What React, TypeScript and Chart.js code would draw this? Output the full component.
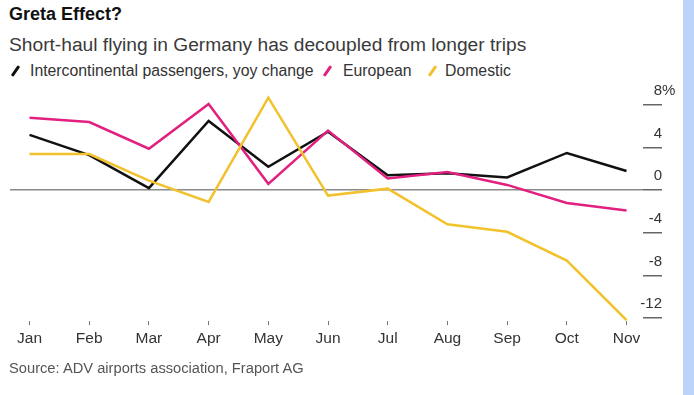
import React, { useEffect, useRef } from 'react';
import { Chart, registerables } from 'chart.js';
Chart.register(...registerables);

const months = ['Jan', 'Feb', 'Mar', 'Apr', 'May', 'Jun', 'Jul', 'Aug', 'Sep', 'Oct', 'Nov'];
const intercontinental = [5.2, 3.3, 0.2, 6.5, 2.2, 5.5, 1.4, 1.6, 1.2, 3.5, 1.8];
const european = [6.8, 6.4, 3.9, 8.1, 0.6, 5.6, 1.1, 1.7, 0.5, -1.2, -1.9];
const domestic = [3.4, 3.4, 0.9, -1.1, 8.7, -0.5, 0.15, -3.2, -3.9, -6.6, -12.2];
const yTicks = [-12, -8, -4, 0, 4, 8];

const FONT = '"Liberation Sans", Arial, Helvetica, sans-serif';
const BLACK = '#111111';
const PINK = '#e2207f';
const YELLOW = '#f2c22c';

function Slash({ color, left }: { color: string; left: number }) {
  return (
    <span
      style={{
        position: 'absolute',
        left,
        top: 65,
        width: 3,
        height: 12,
        background: color,
        transform: 'rotate(35deg)',
        borderRadius: 1,
      }}
    />
  );
}

const yLabelPlugin = {
  id: 'yLabels',
  afterDraw(chart: any) {
    const { ctx, chartArea, scales } = chart;
    const y = scales.y;
    ctx.save();
    ctx.font = `15px ${FONT}`;
    ctx.fillStyle = '#333';
    ctx.textBaseline = 'middle';
    const xr = chartArea.right + 19;
    yTicks.forEach((v) => {
      const py = y.getPixelForValue(v) - 14;
      ctx.textAlign = 'right';
      ctx.fillText(String(v), xr, py);
      if (v === yTicks[yTicks.length - 1]) {
        ctx.textAlign = 'left';
        ctx.fillText('%', xr, py);
      }
    });
    ctx.restore();
  },
};

export default function App() {
  const ref = useRef<HTMLCanvasElement | null>(null);

  useEffect(() => {
    document.body.style.margin = '0';
    const canvas = ref.current;
    if (!canvas) return;
    const toPts = (arr: number[]) => arr.map((y, i) => ({ x: i, y }));
    const chart = new Chart(canvas, {
      type: 'line',
      data: {
        datasets: [
          { label: 'Intercontinental passengers, yoy change', data: toPts(intercontinental), borderColor: BLACK, backgroundColor: BLACK, borderWidth: 2.5, pointRadius: 0, tension: 0, order: 3 },
          { label: 'European', data: toPts(european), borderColor: PINK, backgroundColor: PINK, borderWidth: 2.5, pointRadius: 0, tension: 0, order: 2 },
          { label: 'Domestic', data: toPts(domestic), borderColor: YELLOW, backgroundColor: YELLOW, borderWidth: 2.5, pointRadius: 0, tension: 0, order: 1 },
        ],
      },
      options: {
        animation: false,
        responsive: false,
        maintainAspectRatio: false,
        layout: { padding: { left: 10, top: 94.4, right: 0, bottom: 43.8 } },
        plugins: { legend: { display: false }, tooltip: { enabled: false }, title: { display: false } },
        scales: {
          x: {
            type: 'linear',
            min: -0.327,
            max: 10.276,
            afterBuildTicks: (s: any) => {
              s.ticks = months.map((_, i) => ({ value: i }));
            },
            afterFit: (s: any) => {
              s.height = 30;
            },
            ticks: {
              callback: (v: any) => months[v as number],
              color: '#333',
              font: { size: 15.5, family: FONT },
              padding: 4,
              maxRotation: 0,
              autoSkip: false,
            },
            grid: { drawOnChartArea: false, drawTicks: true, tickLength: 4, tickColor: '#777', lineWidth: 1 },
            border: { display: false },
          },
          y: {
            position: 'right',
            min: -12.3,
            max: 9,
            afterBuildTicks: (s: any) => {
              s.ticks = yTicks.map((v) => ({ value: v }));
            },
            afterFit: (s: any) => {
              s.width = 40;
            },
            ticks: { display: false },
            grid: {
              color: (ctx: any) => (ctx.tick && ctx.tick.value === 0 ? '#8a8a8a' : 'rgba(0,0,0,0)'),
              lineWidth: 1.5,
              drawTicks: true,
              tickLength: 19,
              tickColor: '#666',
            },
            border: { display: false },
          },
        },
      },
      plugins: [yLabelPlugin],
    });
    return () => chart.destroy();
  }, []);

  return (
    <div style={{ position: 'fixed', left: 0, top: 0, width: 694, height: 395, background: '#fff', overflow: 'hidden', fontFamily: FONT }}>
      <div style={{ position: 'absolute', left: 9, top: 4, fontSize: 18, fontWeight: 'bold', lineHeight: '20px', color: '#111', whiteSpace: 'nowrap' }}>
        Greta Effect?
      </div>
      <div style={{ position: 'absolute', left: 9, top: 34, fontSize: 19.2, lineHeight: '22px', color: '#3a3a3a', whiteSpace: 'nowrap' }}>
        Short-haul flying in Germany has decoupled from longer trips
      </div>
      <Slash color={BLACK} left={14} />
      <div style={{ position: 'absolute', left: 30, top: 62, fontSize: 15.8, lineHeight: '18px', color: '#333', whiteSpace: 'nowrap' }}>
        Intercontinental passengers, yoy change
      </div>
      <Slash color={PINK} left={326} />
      <div style={{ position: 'absolute', left: 343, top: 62, fontSize: 15.8, lineHeight: '18px', color: '#333', whiteSpace: 'nowrap' }}>
        European
      </div>
      <Slash color={YELLOW} left={431} />
      <div style={{ position: 'absolute', left: 445, top: 62, fontSize: 15.8, lineHeight: '18px', color: '#333', whiteSpace: 'nowrap' }}>
        Domestic
      </div>
      <canvas ref={ref} width={683} height={395} style={{ position: 'absolute', left: 0, top: 0, width: 683, height: 395 }} />
      <div style={{ position: 'absolute', left: 9, top: 359, fontSize: 14.7, lineHeight: '18px', color: '#555', whiteSpace: 'nowrap' }}>
        Source: ADV airports association, Fraport AG
      </div>
      <div style={{ position: 'absolute', left: 683, top: 0, width: 11, height: 395, background: '#bcd4fa' }} />
    </div>
  );
}
